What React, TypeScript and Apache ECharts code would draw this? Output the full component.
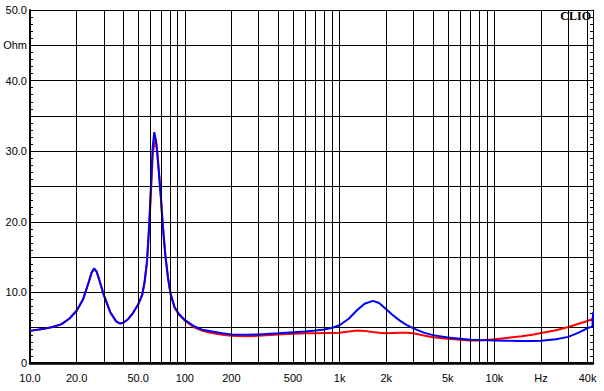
import React, { useEffect, useRef } from "react";
import * as echarts from "echarts";

const freqs = [
  10, 12, 14, 16, 18, 20, 22, 24, 25, 26, 27, 28, 30, 33, 36, 38, 40, 43, 46, 50,
  53, 55, 57, 59, 61, 62, 63.5, 65, 66.5, 68, 70, 72, 75, 78, 81, 86, 92, 100,
  115, 130, 150, 175, 200, 250, 300, 400, 500, 600, 700, 800, 900, 1000, 1150,
  1300, 1450, 1640, 1800, 2000, 2200, 2450, 2700, 3000, 3500, 4000, 5000, 6000,
  7000, 8000, 10000, 12000, 15000, 18000, 20000, 25000, 30000, 35000, 40000,
  43000, 43350,
];

const blueOhm = [
  4.55, 4.8, 5.1, 5.5, 6.3, 7.4, 9.0, 11.5, 12.8, 13.4, 12.9, 11.8, 9.6, 7.2,
  5.9, 5.6, 5.7, 6.2, 7.0, 8.3, 9.6, 11.5, 14.5, 20, 27, 30.5, 32.7, 31.6, 29.5,
  27, 23.5, 19.5, 15, 12, 9.8, 7.9, 6.9, 6.1, 5.2, 4.7, 4.45, 4.2, 4.05, 4.0,
  4.05, 4.2, 4.35, 4.45, 4.6, 4.75, 5.0, 5.35, 6.3, 7.5, 8.4, 8.8, 8.5, 7.6,
  6.8, 6.0, 5.4, 4.9, 4.3, 3.95, 3.6, 3.45, 3.3, 3.25, 3.2, 3.15, 3.12, 3.12,
  3.15, 3.35, 3.7, 4.3, 4.95, 5.15, 7.2,
];

const redOhm = [
  4.55, 4.8, 5.1, 5.5, 6.3, 7.4, 9.0, 11.5, 12.8, 13.3, 12.9, 11.8, 9.6, 7.2,
  5.9, 5.6, 5.7, 6.2, 7.0, 8.3, 9.6, 11.5, 14.2, 19.5, 26, 29.5, 31.0, 31.6,
  29.8, 27.2, 23.8, 19.8, 15.2, 12, 9.7, 7.8, 6.8, 6.0, 5.05, 4.55, 4.25, 4.0,
  3.85, 3.8, 3.85, 4.05, 4.15, 4.2, 4.2, 4.25, 4.25, 4.3, 4.45, 4.6, 4.55, 4.4,
  4.3, 4.2, 4.25, 4.3, 4.3, 4.2, 3.9, 3.65, 3.45, 3.3, 3.2, 3.2, 3.35, 3.55,
  3.8, 4.05, 4.25, 4.65, 5.1, 5.55, 5.95, 6.25, 6.25,
];

const xLabelValues = [10, 20, 50, 100, 200, 500, 1000, 2000, 5000, 10000, 20000, 40000];
const xLabelTexts = ["10.0", "20.0", "50.0", "100", "200", "500", "1k", "2k", "5k", "10k", "Hz", "40k"];

const xGridValues = [
  20, 30, 40, 50, 60, 70, 80, 90, 100, 200, 300, 400, 500, 600, 700, 800, 900,
  1000, 2000, 3000, 4000, 5000, 6000, 7000, 8000, 9000, 10000, 20000, 30000, 40000,
];

const FONT = "Arial, 'Liberation Sans', sans-serif";

export default function App() {
  const ref = useRef<HTMLDivElement>(null);

  useEffect(() => {
    document.body.style.margin = "0";
    if (!ref.current) return;
    const chart = echarts.init(ref.current, null, { renderer: "svg" });
    const pair = (vals: number[]) => freqs.map((f, i) => [f, vals[i]]);
    const xBase = {
      type: "log" as const,
      logBase: 10,
      min: 10,
      max: 43350,
      splitLine: { show: false },
      axisTick: { show: false },
    };
    chart.setOption({
      animation: false,
      backgroundColor: "#ffffff",
      grid: { left: 30, right: 11, top: 10, bottom: 28, containLabel: false },
      xAxis: [
        {
          ...xBase,
          position: "bottom",
          axisLine: { show: true, lineStyle: { color: "#000", width: 2 } },
          axisLabel: {
            show: true,
            customValues: xLabelValues,
            formatter: (v: number) => {
              const i = xLabelValues.findIndex((x) => Math.abs(x - v) / x < 1e-6);
              return i >= 0 ? xLabelTexts[i] : "";
            },
            color: "#000",
            fontSize: 11,
            fontFamily: FONT,
            margin: 9,
            showMinLabel: true,
            showMaxLabel: true,
            hideOverlap: false,
          },
        },
        {
          ...xBase,
          position: "top",
          axisLine: { show: true, lineStyle: { color: "#000", width: 2.5 } },
          axisLabel: { show: false },
        },
      ],
      yAxis: [
        {
          type: "value",
          min: 0,
          max: 50,
          interval: 5,
          position: "left",
          axisLine: { show: true, lineStyle: { color: "#000", width: 2 } },
          axisTick: { show: true, inside: true, length: 3, lineStyle: { color: "#000" } },
          minorTick: { show: true, splitNumber: 5, length: 3, lineStyle: { color: "#000" } },
          splitLine: { show: true, lineStyle: { color: "#000", width: 1 } },
          axisLabel: {
            formatter: (v: number) =>
              v === 0 ? "0" : v === 45 ? "Ohm" : v % 10 === 0 ? v.toFixed(1) : "",
            color: "#000",
            fontSize: 11,
            fontFamily: FONT,
            margin: 3,
          },
        },
        {
          type: "value",
          min: 0,
          max: 50,
          interval: 5,
          position: "right",
          axisLine: { show: true, lineStyle: { color: "#000", width: 1 } },
          axisTick: { show: true, inside: true, length: 3, lineStyle: { color: "#000" } },
          minorTick: { show: true, splitNumber: 5, length: 3, lineStyle: { color: "#000" } },
          splitLine: { show: false },
          axisLabel: { show: false },
        },
      ],
      graphic: [
        {
          type: "text",
          right: 13,
          top: 10,
          style: {
            text: "CLIO",
            font: "bold 12px 'Liberation Serif', 'Times New Roman', serif",
            fill: "#000",
          },
          z: 100,
        },
      ],
      series: [
        {
          type: "line",
          data: [[10, 0]],
          showSymbol: false,
          lineStyle: { opacity: 0 },
          silent: true,
          z: 1,
          markLine: {
            silent: true,
            symbol: ["none", "none"],
            label: { show: false },
            lineStyle: { color: "#000", width: 1, type: "solid" },
            emphasis: { disabled: true },
            data: xGridValues.map((v) => ({ xAxis: v })),
          },
        },
        {
          type: "line",
          data: pair(redOhm),
          showSymbol: false,
          smooth: false,
          lineStyle: { color: "#ff0000", width: 2 },
          itemStyle: { color: "#ff0000" },
          z: 3,
        },
        {
          type: "line",
          data: pair(blueOhm),
          showSymbol: false,
          smooth: false,
          lineStyle: { color: "#0000ff", width: 2 },
          itemStyle: { color: "#0000ff" },
          z: 4,
        },
      ],
    });
    return () => chart.dispose();
  }, []);

  return <div ref={ref} style={{ width: 604, height: 391 }} />;
}
